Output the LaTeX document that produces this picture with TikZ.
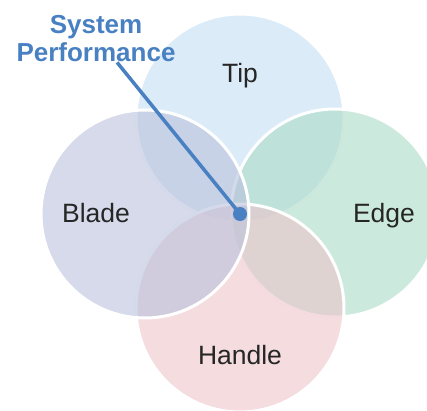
\documentclass[tikz,border=0pt]{standalone}
\usepackage{fontspec}
\setmainfont{Liberation Sans}
\usetikzlibrary{positioning}

\definecolor{tipblue}{RGB}{196,222,244}
\definecolor{bladegray}{RGB}{186,194,220}
\definecolor{edgegreen}{RGB}{170,218,198}
\definecolor{handlepink}{RGB}{236,196,202}
\definecolor{perfblue}{RGB}{72,128,194}

\begin{document}
\begin{tikzpicture}[x=1pt,y=1pt,
    petal/.style={fill opacity=0.6, draw=white, line width=3pt},
    petaltext/.style={text=black!85, font=\fontsize{26.5}{30}\selectfont},
    perftext/.style={text=perfblue, align=center, inner sep=0pt,
        font=\fontsize{26}{28}\selectfont\bfseries}]
        \useasboundingbox (0,0) rectangle (427,410);
        \clip (0,0) rectangle (427,410);

        \coordinate (hub) at (240,196);
        \coordinate (tipc) at (240,292);
        \coordinate (edgec) at (335,197);
        \coordinate (handlec) at (240,102);
        \coordinate (bladec) at (145,196);

        \draw[petal, fill=tipblue] (tipc) circle (104);
        \draw[petal, fill=edgegreen] (edgec) circle (104);
        \draw[petal, fill=handlepink] (handlec) circle (104);
        \draw[petal, fill=bladegray] (bladec) circle (104);

        \node[petaltext] (tip) at (240,334) {Tip};
        \node[petaltext] (blade) at (96,197) {Blade};
        \node[petaltext] (edge) at (384,194) {Edge};
        \node[petaltext] (handle) at (240,55) {Handle};

        \node[perftext] (sysperf) at (96,371) {System\\Performance};
        \draw[perfblue, line width=3.5pt] (sysperf.-48) -- (hub);
        \fill[perfblue] (hub) circle (7);

    \end{tikzpicture}
\end{document}
